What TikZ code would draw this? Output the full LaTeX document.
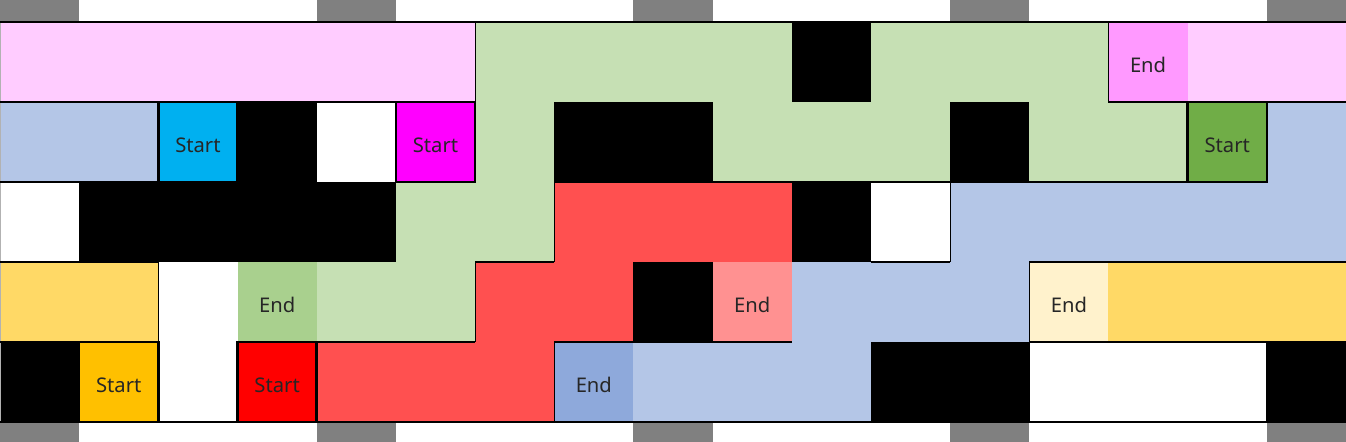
\documentclass[tikz,border=0pt]{standalone}
\usepackage{fontspec}
\setmainfont{Noto Sans}
\usepackage{tikz}

\definecolor{pinkpath}{HTML}{FFCCFF}
\definecolor{pinkend}{HTML}{FF99FF}
\definecolor{pinkstart}{HTML}{FF00FF}
\definecolor{greenpath}{HTML}{C6E0B4}
\definecolor{greenend}{HTML}{A9D08E}
\definecolor{greenstart}{HTML}{70AD47}
\definecolor{bluepath}{HTML}{B4C6E7}
\definecolor{blueend}{HTML}{8EA9DB}
\definecolor{bluestart}{HTML}{00B0F0}
\definecolor{redpath}{HTML}{FF5050}
\definecolor{redend}{HTML}{FF9191}
\definecolor{redstart}{HTML}{FF0000}
\definecolor{yellowpath}{HTML}{FFD966}
\definecolor{yellowend}{HTML}{FFF2CC}
\definecolor{yellowstart}{HTML}{FFC000}
\definecolor{markgray}{HTML}{808080}

\tikzset{
  cellbox/.style={minimum width=1.5836cm, minimum height=1.6cm, inner sep=0pt,
    text height=0.41cm, text depth=0pt,
    text=black!85, font=\fontsize{11.5}{13}\selectfont},
  startbox/.style={cellbox, draw=black, line width=1.4pt},
  endbox/.style={cellbox},
  cellline/.style={black, line width=0.6pt}
}

\begin{document}
\begin{tikzpicture}[x=1.5836cm, y=1.6cm]
    \useasboundingbox (0,0.275) rectangle (17,-5.25);

    %Markers above and below
    \foreach \c in {0,4,8,12,16}{
      \fill[markgray] (\c,0.275) rectangle ++(1,-0.275);
      \fill[markgray] (\c,-5) rectangle ++(1,-0.25);
    }

    %Path cells
    \foreach \c/\r/\col in {0/0/pinkpath, 1/0/pinkpath, 2/0/pinkpath, 3/0/pinkpath, 4/0/pinkpath, 5/0/pinkpath,
        15/0/pinkpath, 16/0/pinkpath,
        6/0/greenpath, 7/0/greenpath, 8/0/greenpath, 9/0/greenpath, 11/0/greenpath, 12/0/greenpath, 13/0/greenpath,
        6/1/greenpath, 9/1/greenpath, 10/1/greenpath, 11/1/greenpath, 13/1/greenpath, 14/1/greenpath,
        5/2/greenpath, 6/2/greenpath, 4/3/greenpath, 5/3/greenpath,
        0/1/bluepath, 1/1/bluepath, 16/1/bluepath,
        12/2/bluepath, 13/2/bluepath, 14/2/bluepath, 15/2/bluepath, 16/2/bluepath,
        10/3/bluepath, 11/3/bluepath, 12/3/bluepath, 8/4/bluepath, 9/4/bluepath, 10/4/bluepath,
        7/2/redpath, 8/2/redpath, 9/2/redpath, 6/3/redpath, 7/3/redpath,
        4/4/redpath, 5/4/redpath, 6/4/redpath,
        0/3/yellowpath, 1/3/yellowpath, 14/3/yellowpath, 15/3/yellowpath, 16/3/yellowpath}
      \fill[\col] (\c,-\r) rectangle ++(1,-1);

    %Walls
    \foreach \c/\r in {10/0, 3/1, 7/1, 8/1, 12/1, 1/2, 2/2, 3/2, 4/2, 10/2, 8/3, 0/4, 11/4, 12/4, 16/4}
      \fill[black] (\c,-\r) rectangle ++(1,-1);

    %End cells
    \node[endbox, fill=pinkend] (endPink) at (14.5,-0.5) {End};
    \node[endbox, fill=greenend] (endGreen) at (3.5,-3.5) {End};
    \node[endbox, fill=redend] (endRed) at (9.5,-3.5) {End};
    \node[endbox, fill=yellowend] (endYellow) at (13.5,-3.5) {End};
    \node[endbox, fill=blueend] (endBlue) at (7.5,-4.5) {End};

    %Cell borders
    \draw[black!30, line width=0.6pt] (0,0) -- (0,-5);
    \draw[cellline] (0,0) -- (17,0);
    \draw[cellline] (0,-5) -- (17,-5);
    \draw[cellline] (0,-1) -- (6,-1) (14,-1) -- (17,-1);
    \draw[cellline] (0,-2) -- (2,-2) (7,-2) -- (15,-2);
    \draw[cellline] (0,-3) -- (2,-3) (6,-3) -- (7,-3) (11,-3) -- (12,-3) (13,-3) -- (17,-3);
    \draw[cellline] (0,-4) -- (2,-4) (3,-4) -- (6,-4) (7,-4) -- (10,-4) (13,-4) -- (17,-4);
    \draw[cellline] (6,0) -- (6,-1) (6,-3) -- (6,-4);
    \draw[cellline] (7,-2) -- (7,-3) (7,-4) -- (7,-5);
    \draw[cellline] (2,-3) -- (2,-4);
    \draw[cellline] (12,-2) -- (12,-3);
    \draw[cellline] (13,-3) -- (13,-5);
    \draw[cellline] (16,-4) -- (16,-5);
    \draw[cellline] (14,0) -- (14,-1);

    %Start cells
    \node[startbox, fill=bluestart] (startBlue) at (2.5,-1.5) {Start};
    \node[startbox, fill=pinkstart] (startPink) at (5.5,-1.5) {Start};
    \node[startbox, fill=greenstart] (startGreen) at (15.5,-1.5) {Start};
    \node[startbox, fill=yellowstart] (startYellow) at (1.5,-4.5) {Start};
    \node[startbox, fill=redstart] (startRed) at (3.5,-4.5) {Start};
\end{tikzpicture}
\end{document}
